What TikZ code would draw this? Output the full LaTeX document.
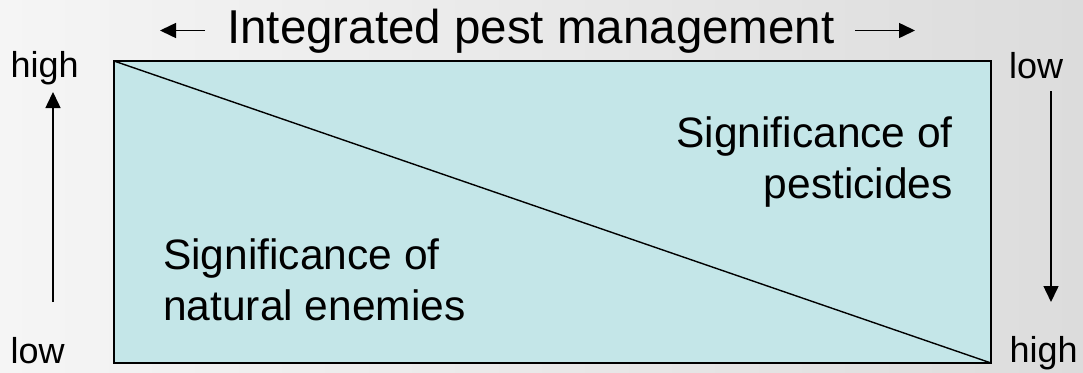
\documentclass[tikz,border=0pt]{standalone}
\usepackage{fontspec}
\setmainfont{Liberation Sans}
\usetikzlibrary{arrows.meta}
\definecolor{boxfill}{HTML}{C4E6E8}
\definecolor{bgleft}{HTML}{F5F5F5}
\definecolor{bgright}{HTML}{DCDCDC}
\begin{document}
\begin{tikzpicture}[x=1pt,y=-1pt,
  lbl/.style={font=\fontsize{36}{43}\selectfont, inner sep=0pt, anchor=base west},
  body/.style={font=\fontsize{42.5}{51}\selectfont, inner sep=0pt},
  arr/.style={line width=1.5pt, -{Triangle[length=16pt,width=15pt]}}]
\shade[left color=bgleft, right color=bgright] (0,0) rectangle (1083,372);
\useasboundingbox (0,0) rectangle (1083,372);
\node[draw, line width=1.6pt, fill=boxfill, minimum width=877pt, minimum height=302pt,
      inner sep=0pt, outer sep=0pt, anchor=north west] (box) at (114,61) {};
\draw[line width=1.4pt] (box.north west) -- (box.south east);
\node[body, anchor=north east, align=right] (pest) at (953,117) {Significance of\\pesticides};
\node[body, anchor=north west, align=left] (nat) at (163,238) {Significance of\\natural enemies};
\node[font=\fontsize{47.5}{57}\selectfont, inner sep=0pt, anchor=base] (title) at (531,43) {Integrated pest management};
\coordinate (tl1) at (205,30.5);
\coordinate (tl2) at (160,30.5);
\coordinate (tr1) at (855,30.5);
\coordinate (tr2) at (915,30.5);
\draw[arr] (tl1) -- (tl2);
\draw[arr] (tr1) -- (tr2);
\node[lbl] (hl) at (10.5,77) {high};
\node[lbl] (ll) at (10.5,363) {low};
\node[lbl] (lr) at (1009,78) {low};
\node[lbl] (hr) at (1009.5,362) {high};
\coordinate (la1) at (53,302);
\coordinate (la2) at (53,92);
\coordinate (ra1) at (1051,91);
\coordinate (ra2) at (1051,302);
\draw[arr] (la1) -- (la2);
\draw[arr] (ra1) -- (ra2);
\end{tikzpicture}
\end{document}
